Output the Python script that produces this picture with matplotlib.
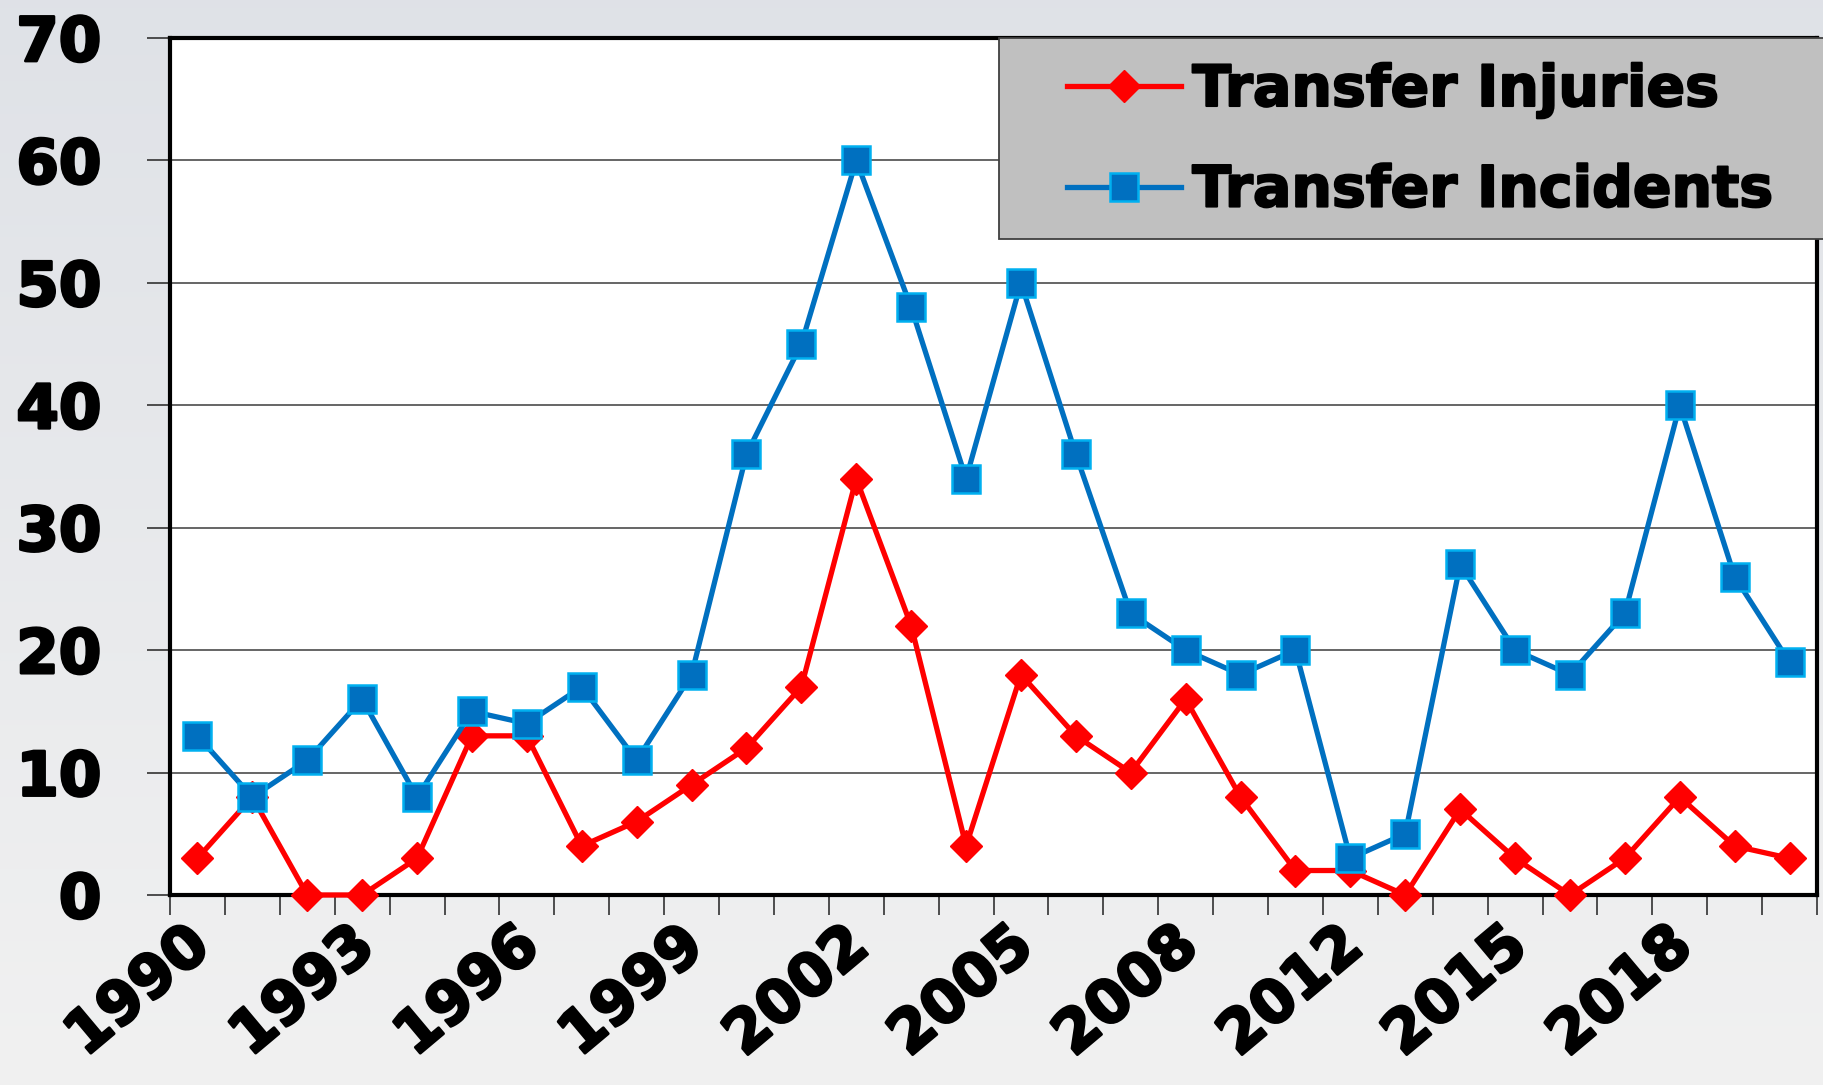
import matplotlib.pyplot as plt
import matplotlib.patheffects as pe
import numpy as np
from matplotlib.patches import Rectangle
from matplotlib.transforms import ScaledTranslation

# data (one year is missing between 2008 and 2012)
years = list(range(1990, 2009)) + list(range(2010, 2021))
injuries = [3, 8, 0, 0, 3, 13, 13, 4, 6, 9, 12, 17, 34, 22, 4, 18, 13, 10, 16, 8,
            2, 2, 0, 7, 3, 0, 3, 8, 4, 3]
incidents = [13, 8, 11, 16, 8, 15, 14, 17, 11, 18, 36, 45, 60, 48, 34, 50, 36, 23, 20, 18,
             20, 3, 5, 27, 20, 18, 23, 40, 26, 19]
series_names = ['Transfer Injuries', 'Transfer Incidents']
yticks = list(range(0, 71, 10))

plt.rcParams['font.family'] = ['DejaVu Sans']
plt.rcParams['font.weight'] = 'bold'
heavy = [pe.withStroke(linewidth=2, foreground='black')]

W, H = 1823, 1085
fig = plt.figure(figsize=(W / 100, H / 100), dpi=100)

# light grey gradient behind everything
bg = fig.add_axes([0, 0, 1, 1], zorder=-10)
g = np.linspace(0, 1, 256)[:, None, None]
top = np.array([0.875, 0.886, 0.906])
bot = np.array([0.945, 0.945, 0.945])
bg.imshow(top + (bot - top) * g, aspect='auto', extent=[0, 1, 0, 1])
bg.axis('off')

ax = fig.add_axes([170 / W, 1 - 895 / H, (1817 - 170) / W, (895 - 38) / H])
x = np.arange(len(years))

ax.plot(x, injuries, color='#ff0000', lw=3.8, marker='D', ms=16, mfc='#ff0000',
        mec='#ff0000', mew=1, label=series_names[0], zorder=3, clip_on=False)
ax.plot(x, incidents, color='#0070c0', lw=3.8, marker='s', ms=20, mfc='#0070c0',
        mec='#00b0f0', mew=1.8, label=series_names[1], zorder=4, clip_on=False)

ax.set_xlim(-0.5, len(years) - 0.5)
ax.set_ylim(0, 70)
ax.set_yticks(yticks)
ax.yaxis.grid(True, color='#595959', lw=1.3)
ax.tick_params(axis='y', length=16.5, width=1.3, color='#404040', labelsize=44, pad=33)

# tick marks between categories, labels every third year
ax.set_xticks(np.arange(-0.5, len(years), 1))
ax.set_xticklabels([])
ax.tick_params(axis='x', which='major', length=14.4, width=1.3, color='#404040')
ax.set_xticks(x[::3], [str(y) for y in years[::3]], minor=True)
ax.tick_params(axis='x', which='minor', length=0, labelsize=43, pad=31)
shift = ScaledTranslation(5 / 100, 0, fig.dpi_scale_trans)
for lab in ax.get_xticklabels(minor=True):
    lab.set_rotation(40)
    lab.set_ha('right')
    lab.set_va('center')
    lab.set_rotation_mode('anchor')
    lab.set_transform(lab.get_transform() + shift)
for lab in ax.get_xticklabels(minor=True) + ax.get_yticklabels():
    lab.set_path_effects(heavy)

for s in ax.spines.values():
    s.set_linewidth(3)
    s.set_color('black')

# legend box sticks out past the right edge
fig.patches.append(Rectangle((999 / W, 1 - 239 / H), (W + 20 - 999) / W, 201 / H,
                             transform=fig.transFigure, fc='#c0c0c0', ec='#404040',
                             lw=1.3, zorder=5))
h, l = ax.get_legend_handles_labels()
leg = fig.legend(h, l, loc='upper left', bbox_to_anchor=(1067 / W, 1 - 63 / H),
                 frameon=False, fontsize=41, handlelength=2.0, handletextpad=0.2,
                 labelspacing=0.8, borderpad=0, borderaxespad=0)
leg.set_zorder(6)
for t in leg.get_texts():
    t.set_path_effects([pe.withStroke(linewidth=1.5, foreground='black')])

fig.savefig('out.png', dpi=100)
